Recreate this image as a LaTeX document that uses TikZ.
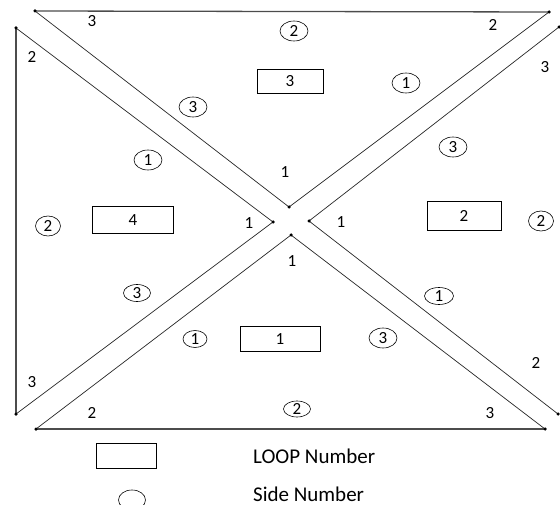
\documentclass[tikz,border=0pt]{standalone}
\usepackage{fontspec}
\setmainfont{Carlito}
\usetikzlibrary{shapes.geometric}
\begin{document}
\begin{tikzpicture}[x=1pt,y=-1pt,
  edge/.style={draw=black!85,line width=0.7pt},
  topedge/.style={draw=black!70,line width=1.3pt},
  vdot/.style={circle,fill=black,inner sep=0pt,minimum size=3.5pt},
  num/.style={font=\fontsize{17}{17}\selectfont,inner sep=0pt},
  side/.style={ellipse,draw,line width=0.6pt,minimum width=28pt,minimum height=20pt,inner sep=0pt,font=\fontsize{17}{17}\selectfont},
  loopbox/.style={draw,line width=0.8pt,inner sep=0pt,font=\fontsize{17}{17}\selectfont},
  legend/.style={font=\fontsize{21}{21}\selectfont,anchor=west,inner sep=0pt}]
\useasboundingbox (0,0) rectangle (560,505);
% vertices
\coordinate (A1) at (35,11);
\coordinate (A2) at (549,12);
\coordinate (A3) at (289,207);
\coordinate (B1) at (16,28);
\coordinate (B2) at (273,222);
\coordinate (B3) at (16,414);
\coordinate (C1) at (559,27);
\coordinate (C2) at (309,221);
\coordinate (C3) at (558,414);
\coordinate (D1) at (291,235);
\coordinate (D2) at (36,429);
\coordinate (D3) at (545,429);
% triangles
\draw[topedge] (A1) -- (A2);
\draw[edge] (A1) -- (A3) -- (A2);
\draw[topedge] (B3) -- (B1);
\draw[edge] (B1) -- (B2) -- (B3);
\draw[edge] (C1) -- (C2) -- (C3);
\draw[edge] (D1) -- (D2);
\draw[edge] (D1) -- (D3);
\draw[topedge] (D2) -- (D3);
\foreach \v in {A1,A2,A3,B1,B2,B3,C1,C2,C3,D1,D2,D3} \node[vdot] at (\v) {};
% top triangle (loop 3)
\node[num] (t3) at (92,21) {3};
\node[num] (t2) at (493,25) {2};
\node[side] (ts2) at (294,31) {2};
\node[loopbox,minimum width=66pt,minimum height=24pt] (L3) at (290,81) {3};
\node[side] (ts1) at (406,83) {1};
\node[side] (ts3) at (193,107) {3};
\node[num] (t1) at (285,172) {1};
% left triangle (loop 4)
\node[num] (l2) at (32,57) {2};
\node[side] (ls1) at (148,160) {1};
\node[side,minimum width=25pt] (ls2) at (48,226) {2};
\node[loopbox,minimum width=81pt,minimum height=27pt] (L4) at (133,220) {4};
\node[num] (l1) at (249,223) {1};
\node[side,minimum width=27pt,minimum height=17pt] (ls3) at (137,293) {3};
\node[num] (l3) at (32,382) {3};
% right triangle (loop 2)
\node[num] (r3) at (545,67) {3};
\node[side] (rs3) at (453,147) {3};
\node[num] (r1) at (341,222) {1};
\node[loopbox,minimum width=74pt,minimum height=29pt] (L2) at (464,216) {2};
\node[side,minimum width=25pt] (rs2) at (541,221) {2};
\node[side,minimum width=29pt,minimum height=17pt] (rs1) at (439,296) {1};
\node[num] (r2) at (536,363) {2};
% bottom triangle (loop 1)
\node[num] (b1) at (292,261) {1};
\node[side,minimum width=24pt,minimum height=17pt] (bs1) at (195,339) {1};
\node[loopbox,minimum width=80pt,minimum height=25pt] (L1) at (280,339) {1};
\node[side] (bs3) at (383,338) {3};
\node[num] (b2) at (92,413) {2};
\node[side,minimum width=27pt,minimum height=16pt] (bs2) at (297,409) {2};
\node[num] (b3) at (490,413) {3};
% legend
\node[loopbox,minimum width=60pt,minimum height=25pt] (legbox) at (126,456) {};
\node[legend] (legL) at (253,456) {LOOP Number};
\node[ellipse,draw,line width=0.6pt,minimum width=27pt,minimum height=20pt,inner sep=0pt] (legcirc) at (132,500) {};
\node[legend] (legS) at (253,494) {Side Number};
\end{tikzpicture}
\end{document}
